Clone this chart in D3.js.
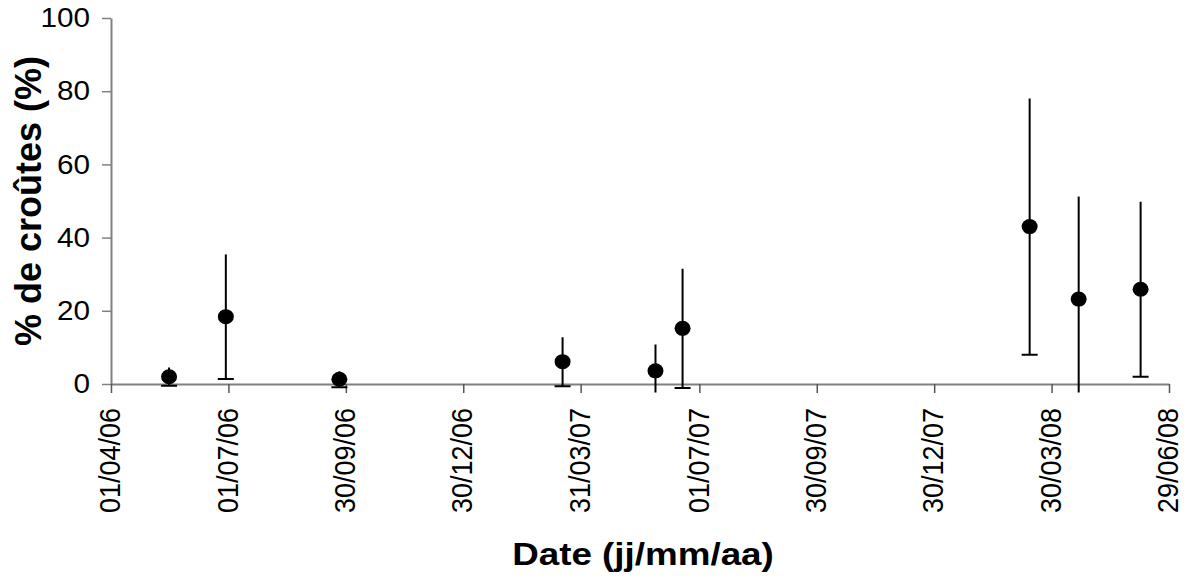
<!DOCTYPE html>
<html>
<head>
<meta charset="utf-8">
<script src="https://cdn.jsdelivr.net/npm/d3@7"></script>
<style>
  html, body { margin: 0; padding: 0; background: #fff; }
  svg { display: block; font-family: Arial, "Liberation Sans", sans-serif; }
</style>
</head>
<body>
<svg id="chart" width="1184" height="577"></svg>
<script>
// ---- data ----
const sampleDates = ["2006-05-16", "2006-06-29", "2006-09-25", "2007-03-17", "2007-05-28", "2007-06-18", "2008-03-13", "2008-04-20", "2008-06-07"];
const meanValues  = [2.0, 18.4, 1.3, 6.1, 3.6, 15.2, 43.0, 23.2, 25.9];
const errorValues = [2.5, 17.0, 2.2, 6.7, 7.2, 16.3, 35.0, 28.0, 23.9];
const yTickValues = [0, 20, 40, 60, 80, 100];
const xTickDates  = ["2006-04-01", "2006-07-01", "2006-09-30", "2006-12-30", "2007-03-31", "2007-07-01", "2007-09-30", "2007-12-30", "2008-03-30", "2008-06-29"];
const xTickLabels = ["01/04/06", "01/07/06", "30/09/06", "30/12/06", "31/03/07", "01/07/07", "30/09/07", "30/12/07", "30/03/08", "29/06/08"];
const xDomain = ["2006-04-01", "2008-06-29"];
const yDomain = [0, 100];
const errorClipMin = -2.3;
const yTitle = "% de croûtes (%)";
const xTitle = "Date (jj/mm/aa)";

// ---- layout ----
const parse = d3.utcParse("%Y-%m-%d");
const mLeft = 111, mRight = 1169, mTop = 18, mBottom = 384;

const x = d3.scaleUtc().domain(xDomain.map(parse)).range([mLeft, mRight]);
const y = d3.scaleLinear().domain(yDomain).range([mBottom, mTop]);

const svg = d3.select("#chart");
const axisColor = "#808080";

// y axis
const yAxis = svg.append("g")
  .attr("transform", `translate(${mLeft},0)`)
  .call(d3.axisLeft(y).tickValues(yTickValues).tickSize(9).tickSizeOuter(0).tickFormat(d3.format("d")));
yAxis.select(".domain").attr("stroke", axisColor).attr("stroke-width", 2);
yAxis.selectAll(".tick line").attr("stroke", axisColor).attr("stroke-width", 1.5);
yAxis.selectAll(".tick text").attr("font-size", 27).attr("fill", "#000")
  .attr("font-family", "Arial, 'Liberation Sans', sans-serif")
  .attr("x", 0)
  .attr("transform", "translate(-21,0) scale(1.1,1)");

// x axis
const xTickDatesParsed = xTickDates.map(parse);
const xAxis = svg.append("g")
  .attr("transform", `translate(0,${mBottom})`)
  .call(d3.axisBottom(x).tickValues(xTickDatesParsed).tickSize(9).tickSizeOuter(0)
    .tickFormat((d, i) => xTickLabels[i]));
xAxis.select(".domain").attr("stroke", axisColor).attr("stroke-width", 2);
xAxis.selectAll(".tick line").attr("stroke", "#555").attr("stroke-width", 1.5);
xAxis.selectAll(".tick text")
  .attr("font-size", 27).attr("fill", "#000")
  .attr("font-family", "Arial, 'Liberation Sans', sans-serif")
  .attr("text-anchor", "end")
  .attr("transform", "scale(1.08,1) rotate(-90)")
  .attr("x", -24).attr("y", 0).attr("dy", "0.3em");

// error bars (clipped like the original)
svg.append("clipPath").attr("id", "errclip")
  .append("rect").attr("x", 0).attr("y", 0).attr("width", 1184).attr("height", y(errorClipMin));

const pts = sampleDates.map((d, i) => ({ date: parse(d), m: meanValues[i], e: errorValues[i] }));

const eg = svg.append("g").attr("clip-path", "url(#errclip)");
eg.selectAll("line.err").data(pts).join("line").attr("class", "err")
  .attr("x1", d => x(d.date)).attr("x2", d => x(d.date))
  .attr("y1", d => y(d.m + d.e)).attr("y2", d => y(d.m - d.e))
  .attr("stroke", "#000").attr("stroke-width", 2);
eg.selectAll("line.cap").data(pts).join("line").attr("class", "cap")
  .attr("x1", d => x(d.date) - 8).attr("x2", d => x(d.date) + 8)
  .attr("y1", d => y(d.m - d.e)).attr("y2", d => y(d.m - d.e))
  .attr("stroke", "#000").attr("stroke-width", 2);

// markers
svg.append("g").selectAll("ellipse").data(pts).join("ellipse")
  .attr("cx", d => x(d.date)).attr("cy", d => y(d.m)).attr("rx", 8).attr("ry", 7.5)
  .attr("fill", "#000");

// titles
svg.append("text")
  .attr("transform", `translate(41,${(mTop + mBottom) / 2}) rotate(-90)`)
  .attr("text-anchor", "middle")
  .attr("font-size", 36).attr("font-weight", "bold").attr("fill", "#000")
  .text(yTitle);

svg.append("text")
  .attr("transform", "translate(643,565) scale(1.15,1)")
  .attr("text-anchor", "middle")
  .attr("font-size", 32).attr("font-weight", "bold").attr("fill", "#000")
  .text(xTitle);
</script>
</body>
</html>
